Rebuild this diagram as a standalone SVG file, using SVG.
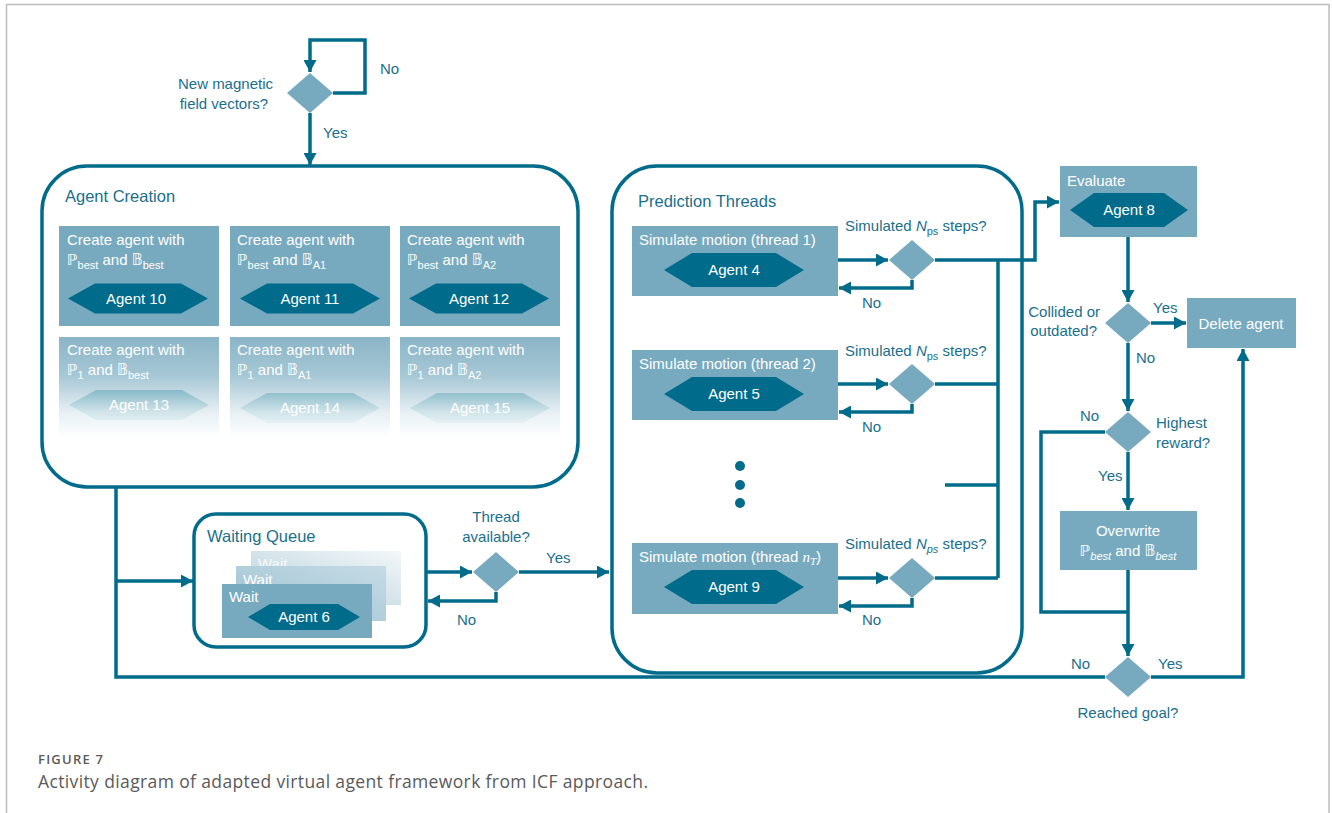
<svg xmlns="http://www.w3.org/2000/svg" width="1332" height="813" viewBox="0 0 1332 813">
<defs>
<style>
.box{fill:none;stroke:#006B8A;stroke-width:3.5}
.card{fill:#78AABF}
.hex{fill:#006B8A}
.dia{fill:#78AABF}
.con{fill:none;stroke:#006B8A;stroke-width:3.5}
.t{font-family:"Liberation Sans",Arial,sans-serif;font-size:15px}
.w{fill:#ffffff}
.l{fill:#1A6F8C}
.ttl{font-family:"Liberation Sans",Arial,sans-serif;font-size:16.5px;fill:#1A6F8C}
.m{font-family:"DejaVu Sans",sans-serif}
.s{font-size:11px}
.c{text-anchor:middle}
.e{text-anchor:end}
</style>
<marker id="ar" markerUnits="userSpaceOnUse" markerWidth="13" markerHeight="13" refX="12" refY="6.5" orient="auto">
<path d="M0,0 L12,6.5 L0,13 Z" fill="#006B8A"/>
</marker>
<linearGradient id="fadeV" x1="0" y1="0" x2="0" y2="1">
<stop offset="0" stop-color="#fff" stop-opacity="0.12"/>
<stop offset="0.4" stop-color="#fff" stop-opacity="0.35"/>
<stop offset="0.75" stop-color="#fff" stop-opacity="0.82"/>
<stop offset="1" stop-color="#fff" stop-opacity="1"/>
</linearGradient>
<linearGradient id="backG" x1="0" y1="1" x2="1" y2="0">
<stop offset="0" stop-color="#b5d0dc"/>
<stop offset="1" stop-color="#f3f7f9"/>
</linearGradient>
<linearGradient id="midG" x1="0" y1="1" x2="1" y2="0">
<stop offset="0" stop-color="#9cc1d1"/>
<stop offset="1" stop-color="#c5dbe5"/>
</linearGradient>
</defs>
<rect width="1332" height="813" fill="#ffffff"/>
<path d="M6.5,813 V4.5 H1329 V813" fill="none" stroke="#bdbdbd" stroke-width="1.5"/>

<g id="decision-new-vectors">
<path class="dia" d="M310,73 L333,93 L310,113 L287,93 Z"/>
<text class="t l e" x="273" y="89">New magnetic</text>
<text class="t l e" x="268" y="109">field vectors?</text>
</g>

<g id="agent-creation">
<rect class="box" x="42" y="166" width="536" height="321" rx="45"/>
<text class="ttl" x="65" y="202">Agent Creation</text>
<g id="card-10">
<rect class="card" x="59" y="226" width="160" height="100"/>
<text class="t w" x="67" y="245">Create agent with</text>
<text class="t w" x="67" y="265"><tspan class="m">&#x2119;</tspan><tspan class="s" dy="4">best</tspan><tspan dy="-4"> and </tspan><tspan class="m">&#x1D539;</tspan><tspan class="s" dy="4">best</tspan></text>
<path class="hex" d="M68,298.5 L95,283.5 L181,283.5 L208,298.5 L181,313.5 L95,313.5 Z"/>
<text class="t w c" x="136" y="304">Agent 10</text>
</g>
<g id="card-11">
<rect class="card" x="230" y="226" width="160" height="100"/>
<text class="t w" x="237" y="245">Create agent with</text>
<text class="t w" x="237" y="265"><tspan class="m">&#x2119;</tspan><tspan class="s" dy="4">best</tspan><tspan dy="-4"> and </tspan><tspan class="m">&#x1D539;</tspan><tspan class="s" dy="4">A1</tspan></text>
<path class="hex" d="M240,298.5 L267,283.5 L353,283.5 L380,298.5 L353,313.5 L267,313.5 Z"/>
<text class="t w c" x="310" y="304">Agent 11</text>
</g>
<g id="card-12">
<rect class="card" x="400" y="226" width="160" height="100"/>
<text class="t w" x="407" y="245">Create agent with</text>
<text class="t w" x="407" y="265"><tspan class="m">&#x2119;</tspan><tspan class="s" dy="4">best</tspan><tspan dy="-4"> and </tspan><tspan class="m">&#x1D539;</tspan><tspan class="s" dy="4">A2</tspan></text>
<path class="hex" d="M409,298.5 L436,283.5 L522,283.5 L549,298.5 L522,313.5 L436,313.5 Z"/>
<text class="t w c" x="479" y="304">Agent 12</text>
</g>
<g id="card-13">
<rect class="card" x="59" y="337" width="160" height="100"/>
<text class="t w" x="67" y="355">Create agent with</text>
<text class="t w" x="67" y="375"><tspan class="m">&#x2119;</tspan><tspan class="s" dy="4">1</tspan><tspan dy="-4"> and </tspan><tspan class="m">&#x1D539;</tspan><tspan class="s" dy="4">best</tspan></text>
<path class="hex" d="M69,405 L96,390 L182,390 L209,405 L182,420 L96,420 Z"/>
<text class="t w c" x="139" y="410">Agent 13</text>
</g>
<g id="card-14">
<rect class="card" x="230" y="337" width="160" height="100"/>
<text class="t w" x="237" y="355">Create agent with</text>
<text class="t w" x="237" y="375"><tspan class="m">&#x2119;</tspan><tspan class="s" dy="4">1</tspan><tspan dy="-4"> and </tspan><tspan class="m">&#x1D539;</tspan><tspan class="s" dy="4">A1</tspan></text>
<path class="hex" d="M240,408 L267,393 L353,393 L380,408 L353,423 L267,423 Z"/>
<text class="t w c" x="310" y="413">Agent 14</text>
</g>
<g id="card-15">
<rect class="card" x="400" y="337" width="160" height="100"/>
<text class="t w" x="407" y="355">Create agent with</text>
<text class="t w" x="407" y="375"><tspan class="m">&#x2119;</tspan><tspan class="s" dy="4">1</tspan><tspan dy="-4"> and </tspan><tspan class="m">&#x1D539;</tspan><tspan class="s" dy="4">A2</tspan></text>
<path class="hex" d="M410,408 L437,393 L523,393 L550,408 L523,423 L437,423 Z"/>
<text class="t w c" x="480" y="413">Agent 15</text>
</g>
<rect x="55" y="335" width="510" height="103" fill="url(#fadeV)"/>
</g>

<g id="waiting-queue">
<rect class="box" x="194" y="514" width="232" height="133" rx="22"/>
<text class="ttl" x="207" y="542">Waiting Queue</text>
<rect x="251" y="551" width="150" height="54" fill="url(#backG)"/>
<text class="t" x="258" y="569" fill="#ffffff" fill-opacity="0.85">Wait</text>
<rect x="236" y="566" width="150" height="55" fill="url(#midG)"/>
<text class="t w" x="243" y="585">Wait</text>
<rect class="card" x="222" y="584" width="150" height="54"/>
<text class="t w" x="229" y="602">Wait</text>
<path class="hex" d="M248,617 L270,604 L338,604 L360,617 L338,630 L270,630 Z"/>
<text class="t w c" x="304" y="622">Agent 6</text>
</g>

<g id="decision-thread-available">
<path class="dia" d="M496,552 L519,572 L496,592 L473,572 Z"/>
<text class="t l c" x="496" y="522">Thread</text>
<text class="t l c" x="496" y="542">available?</text>
</g>

<g id="prediction-threads">
<rect class="box" x="612" y="166" width="410" height="507" rx="45"/>
<text class="ttl" x="638" y="207">Prediction Threads</text>
<g id="thread-1">
<rect class="card" x="632" y="226" width="206" height="70"/>
<text class="t w" x="639" y="245">Simulate motion (thread 1)</text>
<path class="hex" d="M664,270 L692,253 L776,253 L804,270 L776,287 L692,287 Z"/>
<text class="t w c" x="734" y="275">Agent 4</text>
</g>
<g id="thread-2">
<rect class="card" x="632" y="350" width="206" height="70"/>
<text class="t w" x="639" y="369">Simulate motion (thread 2)</text>
<path class="hex" d="M664,394 L692,377 L776,377 L804,394 L776,411 L692,411 Z"/>
<text class="t w c" x="734" y="399">Agent 5</text>
</g>
<g id="thread-dots">
<circle cx="740" cy="466" r="5" fill="#006B8A"/>
<circle cx="740" cy="485" r="5" fill="#006B8A"/>
<circle cx="740" cy="503" r="5" fill="#006B8A"/>
</g>
<g id="thread-nT">
<rect class="card" x="632" y="543" width="206" height="71"/>
<text class="t w" x="639" y="562">Simulate motion (thread <tspan font-family="'Liberation Serif',serif" font-style="italic">n</tspan><tspan class="s" font-family="'Liberation Serif',serif" font-style="italic" dy="3">T</tspan><tspan dy="-3">)</tspan></text>
<path class="hex" d="M664,587 L692,570 L776,570 L804,587 L776,604 L692,604 Z"/>
<text class="t w c" x="734" y="592">Agent 9</text>
</g>
<g id="decision-steps-1">
<path class="dia" d="M912,240 L935,260 L912,280 L889,260 Z"/>
<text class="t l" x="845" y="231">Simulated <tspan font-style="italic">N</tspan><tspan class="s" dy="4">ps</tspan><tspan dy="-4"> steps?</tspan></text>
</g>
<g id="decision-steps-2">
<path class="dia" d="M912,364 L935,384 L912,404 L889,384 Z"/>
<text class="t l" x="845" y="356">Simulated <tspan font-style="italic">N</tspan><tspan class="s" dy="4">ps</tspan><tspan dy="-4"> steps?</tspan></text>
</g>
<g id="decision-steps-nT">
<path class="dia" d="M912,558 L935,578 L912,598 L889,578 Z"/>
<text class="t l" x="845" y="549">Simulated <tspan font-style="italic">N</tspan><tspan class="s" font-style="italic" dy="4">ps</tspan><tspan dy="-4"> steps?</tspan></text>
</g>
</g>

<g id="evaluate">
<rect class="card" x="1060" y="166" width="137" height="71"/>
<text class="t w" x="1067" y="186">Evaluate</text>
<path class="hex" d="M1070,210 L1094,193 L1164,193 L1188,210 L1164,227 L1094,227 Z"/>
<text class="t w c" x="1129" y="215">Agent 8</text>
</g>

<g id="decision-collided">
<path class="dia" d="M1128,303 L1151,323 L1128,343 L1105,323 Z"/>
<text class="t l e" x="1100" y="317">Collided or</text>
<text class="t l e" x="1097" y="336">outdated?</text>
</g>

<g id="delete-agent">
<rect class="card" x="1187" y="298" width="109" height="50"/>
<text class="t w c" x="1241" y="329">Delete agent</text>
</g>

<g id="decision-highest">
<path class="dia" d="M1128,412 L1151,432 L1128,452 L1105,432 Z"/>
<text class="t l" x="1156" y="428">Highest</text>
<text class="t l" x="1156" y="448">reward?</text>
</g>

<g id="overwrite">
<rect class="card" x="1060" y="511" width="137" height="59"/>
<text class="t w c" x="1128" y="536">Overwrite</text>
<text class="t w c" x="1128" y="556"><tspan class="m">&#x2119;</tspan><tspan class="s" font-style="italic" dy="4">best</tspan><tspan dy="-4"> and </tspan><tspan class="m">&#x1D539;</tspan><tspan class="s" font-style="italic" dy="4">best</tspan></text>
</g>

<g id="decision-reached-goal">
<path class="dia" d="M1128,657 L1151,677 L1128,697 L1105,677 Z"/>
<text class="t l c" x="1128" y="718">Reached goal?</text>
</g>

<g id="connectors">
<path class="con" d="M333,93 H365 V40 H310 V72" marker-end="url(#ar)"/>
<path class="con" d="M310,113 V165" marker-end="url(#ar)"/>
<path class="con" d="M1105,677 H116 V487"/>
<path class="con" d="M116,581 H193" marker-end="url(#ar)"/>
<path class="con" d="M426,572 H472" marker-end="url(#ar)"/>
<path class="con" d="M496,592 V601 H428" marker-end="url(#ar)"/>
<path class="con" d="M519,572 H609" marker-end="url(#ar)"/>
<path class="con" d="M838,260 H888" marker-end="url(#ar)"/>
<path class="con" d="M912,280 V288 H839" marker-end="url(#ar)"/>
<path class="con" d="M838,384 H888" marker-end="url(#ar)"/>
<path class="con" d="M912,404 V412 H839" marker-end="url(#ar)"/>
<path class="con" d="M838,578 H888" marker-end="url(#ar)"/>
<path class="con" d="M912,598 V606 H839" marker-end="url(#ar)"/>
<path class="con" d="M935,260 H1035 V202 H1059" marker-end="url(#ar)"/>
<path class="con" d="M998,260 V578"/>
<path class="con" d="M935,384 H998"/>
<path class="con" d="M945,485 H998"/>
<path class="con" d="M935,578 H998"/>
<path class="con" d="M1128,237 V302" marker-end="url(#ar)"/>
<path class="con" d="M1151,323 H1186" marker-end="url(#ar)"/>
<path class="con" d="M1128,343 V411" marker-end="url(#ar)"/>
<path class="con" d="M1105,432 H1041 V612 H1128"/>
<path class="con" d="M1128,452 V510" marker-end="url(#ar)"/>
<path class="con" d="M1128,570 V656" marker-end="url(#ar)"/>
<path class="con" d="M1151,677 H1243 V349" marker-end="url(#ar)"/>
</g>

<g id="connector-labels">
<text class="t l" x="380" y="74">No</text>
<text class="t l" x="323" y="138">Yes</text>
<text class="t l" x="546" y="563">Yes</text>
<text class="t l" x="457" y="625">No</text>
<text class="t l" x="862" y="308">No</text>
<text class="t l" x="862" y="432">No</text>
<text class="t l" x="862" y="625">No</text>
<text class="t l" x="1153" y="313">Yes</text>
<text class="t l" x="1136" y="363">No</text>
<text class="t l" x="1080" y="421">No</text>
<text class="t l" x="1098" y="481">Yes</text>
<text class="t l" x="1071" y="669">No</text>
<text class="t l" x="1158" y="669">Yes</text>
</g>

<g id="caption">
<text x="38" y="764" font-family="'Open Sans',sans-serif" font-size="13" font-weight="600" fill="#5a5a5a" textLength="65" lengthAdjust="spacing">FIGURE 7</text>
<text x="38" y="788" font-family="'Open Sans',sans-serif" font-size="17.5" fill="#5a5a5a" textLength="610" lengthAdjust="spacing">Activity diagram of adapted virtual agent framework from ICF approach.</text>
</g>
</svg>
